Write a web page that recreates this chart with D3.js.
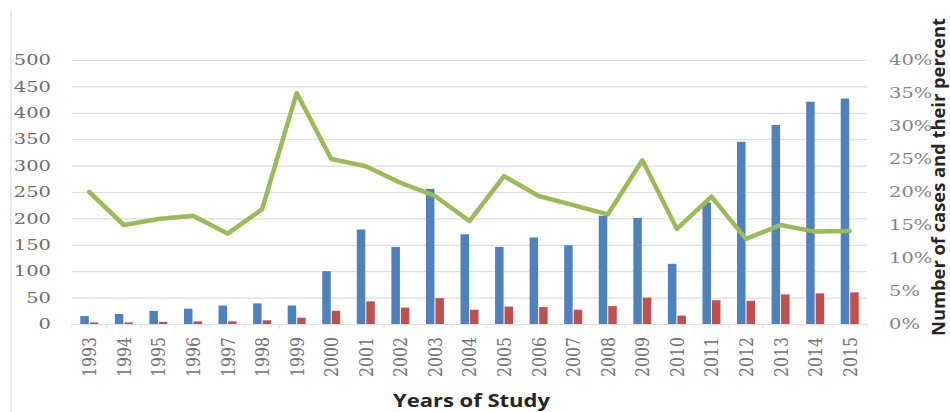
<!DOCTYPE html>
<html>
<head>
<meta charset="utf-8">
<script src="https://cdn.jsdelivr.net/npm/d3@7/dist/d3.min.js"></script>
<style>
  html, body { margin: 0; padding: 0; background: #fff; }
  svg { display: block; }
</style>
</head>
<body>
<svg id="chart" width="950" height="412"></svg>
<script>
// Study years
const years = ["1993","1994","1995","1996","1997","1998","1999","2000","2001","2002","2003","2004",
               "2005","2006","2007","2008","2009","2010","2011","2012","2013","2014","2015"];
// Total number of cases per year (left axis)
const totalCases = [15,19,25,29,35,39,35,100,179,146,256,170,146,164,149,205,201,114,230,345,377,421,427];
// Number of positive cases per year (left axis)
const positiveCases = [3,3,4,5,5,7,12,25,43,31,49,27,33,32,27,34,50,16,45,44,56,58,60];
// Percentage of positive cases (right axis)
const percentPositive = [0.20,0.15,0.159,0.164,0.137,0.174,0.35,0.25,0.239,0.214,0.194,0.156,
                         0.224,0.194,0.18,0.166,0.248,0.144,0.193,0.129,0.15,0.14,0.141];
// Axis ticks
const leftTicks = [0,50,100,150,200,250,300,350,400,450,500];
const rightTicks = [0,0.05,0.10,0.15,0.20,0.25,0.30,0.35,0.40];

const svg = d3.select("#chart");
const plot = { left: 72, right: 867, top: 60, bottom: 324 };

const x = d3.scaleBand().domain(years).range([plot.left, plot.right]).padding(0);
const y = d3.scaleLinear().domain([0, 500]).range([plot.bottom, plot.top]);
const yPct = d3.scaleLinear().domain([0, 0.40]).range([plot.bottom, plot.top]);
const cx = d => x(d) + x.bandwidth() / 2;

// Chart area border (left edge)
svg.append("line")
  .attr("x1", 11).attr("x2", 11).attr("y1", 11).attr("y2", 412)
  .attr("stroke", "#e2e2e2").attr("stroke-width", 1.5);

// Horizontal gridlines
svg.append("g").selectAll("line").data(leftTicks).join("line")
  .attr("x1", plot.left).attr("x2", plot.right)
  .attr("y1", d => y(d) + 0.5).attr("y2", d => y(d) + 0.5)
  .attr("stroke", "#dedede").attr("stroke-width", 1.2);

// Category tick marks on the baseline
svg.append("g").selectAll("line").data(years.concat(["end"])).join("line")
  .attr("x1", (d, i) => i < years.length ? x(d) : plot.right)
  .attr("x2", (d, i) => i < years.length ? x(d) : plot.right)
  .attr("y1", plot.bottom).attr("y2", plot.bottom + 5)
  .attr("stroke", "#e4e4e4").attr("stroke-width", 1);

// Left axis labels
const serif = "'DejaVu Serif', 'Liberation Serif', serif";
svg.append("g").selectAll("text").data(leftTicks).join("text")
  .attr("transform", d => `translate(51,${y(d)}) scale(1.3,1)`)
  .attr("text-anchor", "end").attr("dominant-baseline", "central")
  .attr("font-family", serif).attr("font-size", 15).attr("fill", "#6e6e6e")
  .text(d => d);

// Right axis labels
svg.append("g").selectAll("text").data(rightTicks).join("text")
  .attr("transform", d => `translate(889,${yPct(d)}) scale(1.3,1)`)
  .attr("text-anchor", "start").attr("dominant-baseline", "central")
  .attr("font-family", serif).attr("font-size", 15).attr("fill", "#858585")
  .text(d => d3.format(".0%")(d));

// Year labels, rotated
svg.append("g").selectAll("text").data(years).join("text")
  .attr("transform", d => `translate(${cx(d) + 1},337) rotate(-90) scale(1,1.2)`)
  .attr("text-anchor", "end").attr("dominant-baseline", "central")
  .attr("font-family", serif).attr("font-size", 15).attr("fill", "#747474")
  .attr("textLength", 40).attr("lengthAdjust", "spacingAndGlyphs")
  .text(d => d);

// Bars: total cases (blue) and positive cases (red)
const barW = 8.5;
svg.append("g").selectAll("rect").data(years).join("rect")
  .attr("x", (d) => cx(d) - barW - 0.5)
  .attr("width", barW)
  .attr("y", (d, i) => y(totalCases[i]))
  .attr("height", (d, i) => plot.bottom - y(totalCases[i]))
  .attr("fill", "#4f81bd");

svg.append("g").selectAll("rect").data(years).join("rect")
  .attr("x", (d) => cx(d) + 0.5)
  .attr("width", barW)
  .attr("y", (d, i) => y(positiveCases[i]))
  .attr("height", (d, i) => plot.bottom - y(positiveCases[i]))
  .attr("fill", "#c0504d");

// Percentage line
const line = d3.line()
  .x((d, i) => cx(years[i]))
  .y(d => yPct(d));
svg.append("path")
  .datum(percentPositive)
  .attr("d", line)
  .attr("fill", "none")
  .attr("stroke", "#9bbb59")
  .attr("stroke-width", 4.5)
  .attr("stroke-linejoin", "round")
  .attr("stroke-linecap", "round");

// Axis titles
const sans = "'Open Sans', 'Noto Sans', 'DejaVu Sans', sans-serif";
svg.append("text")
  .attr("x", (plot.left + plot.right) / 2 + 2).attr("y", 407)
  .attr("text-anchor", "middle")
  .attr("font-family", sans).attr("font-weight", "bold").attr("font-size", 17)
  .attr("fill", "#262626")
  .attr("textLength", 157).attr("lengthAdjust", "spacingAndGlyphs")
  .text("Years of Study");

svg.append("text")
  .attr("transform", "translate(945,177) rotate(-90)")
  .attr("text-anchor", "middle")
  .attr("font-family", sans).attr("font-weight", "bold").attr("font-size", 18)
  .attr("fill", "#262626")
  .attr("textLength", 318).attr("lengthAdjust", "spacingAndGlyphs")
  .text("Number of cases and their percent");
</script>
</body>
</html>
